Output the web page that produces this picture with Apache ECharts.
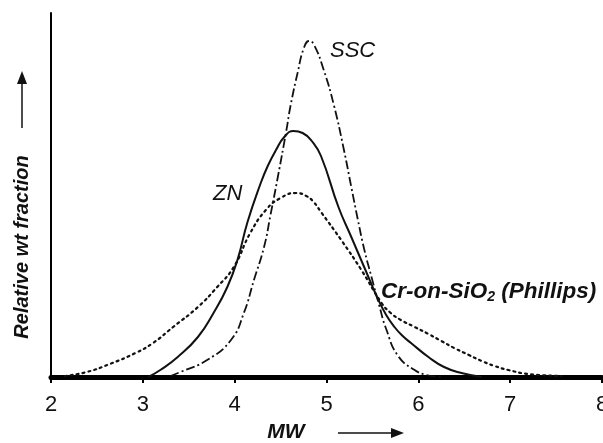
<!DOCTYPE html>
<html>
<head>
<meta charset="utf-8">
<script src="https://cdn.jsdelivr.net/npm/echarts@6/dist/echarts.min.js"></script>
<style>
html,body{margin:0;padding:0;background:#fff;}
#chart{width:603px;height:443px;}
</style>
</head>
<body>
<div id="chart"></div>
<script>
// x: log MW, y: relative weight fraction (arbitrary units, 0..364)
var xTicks = [2, 3, 4, 5, 6, 7, 8];
var sscData = [
  [3.30, 1], [3.41, 5], [3.70, 17], [3.96, 37], [4.10, 64], [4.21, 97],
  [4.32, 130], [4.39, 162], [4.47, 200], [4.56, 245], [4.61, 272], [4.69, 306],
  [4.75, 328], [4.81, 336], [4.86, 333], [4.97, 307], [5.08, 272], [5.19, 227],
  [5.27, 190], [5.34, 158], [5.41, 128], [5.49, 100], [5.57, 73], [5.65, 48],
  [5.78, 21], [5.96, 7], [6.09, 2], [6.25, 0]
];
var znData = [
  [3.06, 0], [3.19, 7], [3.38, 20], [3.60, 40], [3.77, 64], [3.92, 90],
  [4.03, 117], [4.14, 155], [4.28, 193], [4.36, 211], [4.45, 227], [4.54, 240],
  [4.64, 246], [4.74, 244], [4.84, 236], [4.94, 221], [5.13, 170], [5.27, 140],
  [5.41, 110], [5.56, 78], [5.65, 62], [5.74, 50], [5.83, 41], [5.92, 34],
  [6.11, 20], [6.28, 10], [6.47, 4], [6.69, 0]
];
var crData = [
  [2.15, 1], [2.39, 5], [2.64, 13], [2.92, 24], [3.11, 34], [3.33, 50],
  [3.60, 70], [3.81, 90], [3.99, 110], [4.17, 144], [4.34, 167], [4.50, 179],
  [4.67, 184], [4.78, 181], [4.86, 175], [4.94, 165], [5.16, 137], [5.38, 107],
  [5.60, 74], [5.70, 64], [5.81, 57], [5.96, 50], [6.11, 43], [6.25, 36],
  [6.39, 29], [6.55, 22], [6.69, 16], [6.83, 11], [6.98, 7], [7.20, 3], [7.56, 1]
];

var chart = echarts.init(document.getElementById('chart'), null, {renderer: 'canvas'});
var FONT = 'Liberation Sans, Arial, Helvetica, sans-serif';
var lineBase = {type: 'line', smooth: 0.5, symbol: 'none', z: 3};
chart.setOption({
  animation: false,
  backgroundColor: '#fff',
  grid: {left: 51, right: 1, top: 13, bottom: 66, containLabel: false, outerBoundsMode: 'none'},
  xAxis: {
    type: 'value', min: 2, max: 8, interval: 1,
    axisLine: {lineStyle: {color: '#000', width: 5}},
    axisTick: {show: true, length: 6, lineStyle: {color: '#000', width: 2}},
    axisLabel: {color: '#111', fontSize: 22, fontFamily: FONT, margin: 17,
      formatter: function (v) { return xTicks.indexOf(v) >= 0 ? String(v) : ''; }},
    splitLine: {show: false}
  },
  yAxis: {
    type: 'value', min: 0, max: 364,
    axisLine: {show: true, lineStyle: {color: '#000', width: 2}},
    axisTick: {show: false}, axisLabel: {show: false}, splitLine: {show: false}
  },
  series: [
    Object.assign({}, lineBase, {name: 'SSC', data: sscData,
      lineStyle: {color: '#111', width: 1.8, type: [9, 3, 2, 3]}}),
    Object.assign({}, lineBase, {name: 'ZN', data: znData,
      lineStyle: {color: '#111', width: 2, type: 'solid'}}),
    Object.assign({}, lineBase, {name: 'Cr-on-SiO2 (Phillips)', data: crData,
      lineStyle: {color: '#111', width: 2.2, type: [2, 4], cap: 'round'}})
  ],
  graphic: [
    {type: 'text', left: 330, top: 40, style: {text: 'SSC', fill: '#111', font: 'italic 22px ' + FONT}},
    {type: 'text', left: 213, top: 183, style: {text: 'ZN', fill: '#111', font: 'italic 22px ' + FONT}},
    {type: 'text', left: 381, top: 280, style: {
      text: 'Cr-on-SiO{sub|2} (Phillips)', fill: '#111', font: 'italic bold 22.5px ' + FONT,
      rich: {sub: {font: 'italic bold 14px ' + FONT, fill: '#111', padding: [12, 0, 0, 0]}}
    }},
    {type: 'text', x: 22, y: 247, rotation: Math.PI / 2, style: {
      text: 'Relative wt fraction', fill: '#111', font: 'italic bold 20px ' + FONT,
      align: 'center', verticalAlign: 'middle'}},
    {type: 'line', shape: {x1: 22, y1: 128, x2: 22, y2: 82}, style: {stroke: '#111', lineWidth: 1.5}},
    {type: 'polygon', shape: {points: [[22, 71], [17, 84], [27, 84]]}, style: {fill: '#111'}},
    {type: 'text', x: 286, y: 432, style: {
      text: 'MW', fill: '#111', font: 'italic bold 21px ' + FONT,
      align: 'center', verticalAlign: 'middle'}},
    {type: 'line', shape: {x1: 338, y1: 433, x2: 393, y2: 433}, style: {stroke: '#111', lineWidth: 1.5}},
    {type: 'polygon', shape: {points: [[404, 433], [391, 428], [391, 438]]}, style: {fill: '#111'}}
  ]
});
</script>
</body>
</html>
